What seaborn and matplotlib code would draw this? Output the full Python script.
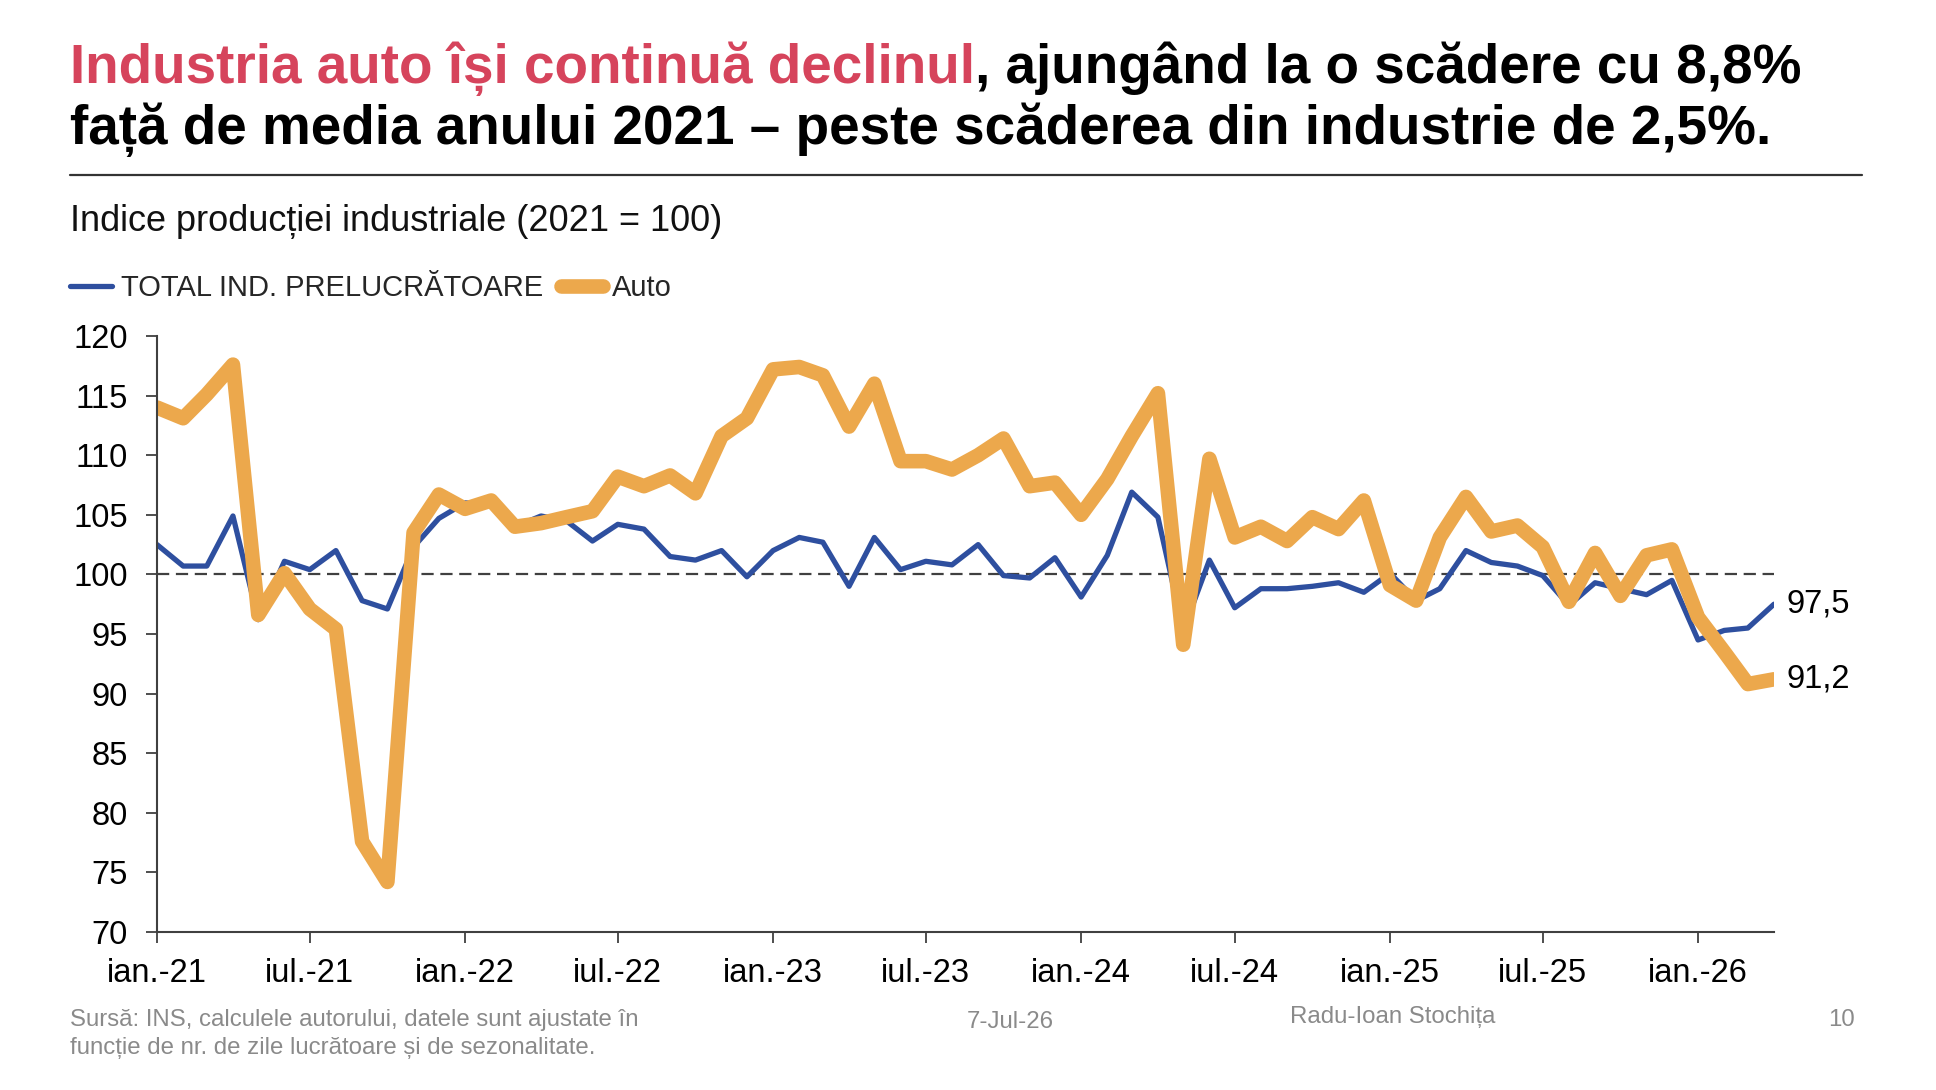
import matplotlib
matplotlib.use("Agg")
import matplotlib.pyplot as plt
from matplotlib.lines import Line2D
import pandas as pd
import seaborn as sns

# 1. Data (index 2021 = 100), monthly Jan 2021 - Apr 2026
months = pd.date_range("2021-01-01", periods=64, freq="MS")

total_ind = [
    102.5, 100.7, 100.7, 104.9, 96.2, 101.1, 100.4, 102.0, 97.8, 97.1, 102.3, 104.7,
    106.0, 105.9, 104.0, 104.9, 104.5, 102.8, 104.2, 103.8, 101.5, 101.2, 102.0, 99.8,
    102.0, 103.1, 102.7, 99.0, 103.1, 100.4, 101.1, 100.8, 102.5, 99.9, 99.7, 101.4,
    98.1, 101.6, 106.9, 104.8, 95.3, 101.2, 97.2, 98.8, 98.8, 99.0, 99.3, 98.5,
    100.1, 97.8, 98.8, 102.0, 101.0, 100.7, 99.9, 97.4, 99.3, 98.8, 98.3, 99.5,
    94.5, 95.3, 95.5, 97.5,
]
auto = [
    114.0, 113.1, 115.1, 117.6, 96.6, 100.1, 97.1, 95.4, 77.6, 74.2, 103.5, 106.7,
    105.5, 106.2, 104.0, 104.3, 104.8, 105.3, 108.2, 107.4, 108.3, 106.8, 111.6, 113.1,
    117.2, 117.4, 116.7, 112.4, 116.0, 109.5, 109.5, 108.8, 110.0, 111.4, 107.4, 107.7,
    105.0, 108.0, 111.6, 115.2, 94.1, 109.7, 103.1, 104.0, 102.8, 104.8, 103.8, 106.2,
    99.1, 97.8, 103.1, 106.5, 103.6, 104.1, 102.3, 97.7, 101.8, 98.2, 101.6, 102.1,
    96.4, 93.5, 90.8, 91.2,
]

tick_dates = pd.date_range("2021-01-01", periods=11, freq="6MS")
tick_labels = [
    "ian.-21", "iul.-21", "ian.-22", "iul.-22", "ian.-23", "iul.-23",
    "ian.-24", "iul.-24", "ian.-25", "iul.-25", "ian.-26",
]
series_names = ["TOTAL IND. PRELUCRĂTOARE", "Auto"]

df = pd.DataFrame({"luna": months, series_names[0]: total_ind, series_names[1]: auto})

# 2. Style
sns.set_theme(style="ticks")
plt.rcParams["font.family"] = ["Liberation Sans", "DejaVu Sans"]

BLUE = "#2E4F9F"
ORANGE = "#ECA84C"
RED = "#D6445C"
AXIS = "#404040"

W, H = 1936, 1090
fig = plt.figure(figsize=(W / 100, H / 100), dpi=100)
ax = fig.add_axes([157 / W, 1 - 932 / H, (1774 - 157) / W, (932 - 336) / H])

# 3. Lines
ax.axhline(100, color=AXIS, lw=1.6, ls=(0, (5.5, 3)), zorder=1)
sns.lineplot(data=df, x="luna", y=series_names[0], ax=ax, color=BLUE, linewidth=3.8,
             label=series_names[0], solid_joinstyle="round")
sns.lineplot(data=df, x="luna", y=series_names[1], ax=ax, color=ORANGE, linewidth=10.5,
             label=series_names[1], solid_joinstyle="round")

# last values
for vals in [total_ind, auto]:
    ax.annotate(f"{vals[-1]:.1f}".replace(".", ","), xy=(months[-1], vals[-1]),
                xytext=(9, 0), textcoords="offset points", va="center", ha="left",
                fontsize=23.5, color="black", annotation_clip=False)

# 4. Axes
ax.set_xlim(months[0], months[-1])
ax.set_ylim(70, 120)
ax.set_yticks(range(70, 121, 5))
ax.set_xticks(tick_dates)
ax.set_xticklabels(tick_labels)
ax.set_xlabel("")
ax.set_ylabel("")
ax.tick_params(axis="both", direction="out", length=8, width=1.3, color=AXIS,
               labelsize=23.5, labelcolor="black")
ax.tick_params(axis="x", pad=11)
ax.tick_params(axis="y", pad=13)
sns.despine(ax=ax)
for s in ["left", "bottom"]:
    ax.spines[s].set_color(AXIS)
    ax.spines[s].set_linewidth(1.5)

handles, labels = ax.get_legend_handles_labels()
ax.get_legend().remove()
fig.legend(handles, labels, loc="center left", bbox_to_anchor=(70 / W, 1 - 288 / H),
           ncol=2, frameon=False, fontsize=21, handlelength=1.45, handletextpad=0.3,
           columnspacing=0.6, borderpad=0, borderaxespad=0)

# 5. Title block
x0 = 70 / W
t1 = fig.text(x0, 1 - 83 / H, "Industria auto își continuă declinul", color=RED,
              fontsize=39.5, fontweight="bold", va="baseline")
fig.canvas.draw()
bb = t1.get_window_extent()
fig.text(bb.x1 / W, 1 - 83 / H, ", ajungând la o scădere cu 8,8%", color="black",
         fontsize=39.5, fontweight="bold", va="baseline")
fig.text(x0, 1 - 144 / H, "față de media anului 2021 – peste scăderea din industrie de 2,5%.",
         color="black", fontsize=39.5, fontweight="bold", va="baseline")
fig.add_artist(Line2D([x0, 1862 / W], [1 - 175 / H, 1 - 175 / H], transform=fig.transFigure,
                      color="#333333", lw=1.6))
fig.text(x0, 1 - 231 / H, "Indice producției industriale (2021 = 100)", fontsize=26,
         color="#111111", va="baseline")

# 6. Footer
GREY = "#8A8A8A"
fig.text(x0, 1 - 1034 / H, "Sursă: INS, calculele autorului, datele sunt ajustate în\n"
         "funcție de nr. de zile lucrătoare și de sezonalitate.",
         fontsize=17.3, color=GREY, va="center", linespacing=1.3)
fig.text(1010 / W, 1 - 1022 / H, "7-Jul-26", fontsize=17.3, color=GREY, ha="center", va="center")
fig.text(1393 / W, 1 - 1017 / H, "Radu-Ioan Stochița", fontsize=17.3, color=GREY,
         ha="center", va="center")
fig.text(1842 / W, 1 - 1020 / H, "10", fontsize=17.3, color=GREY, ha="center", va="center")

fig.savefig("out.png", dpi=100)
